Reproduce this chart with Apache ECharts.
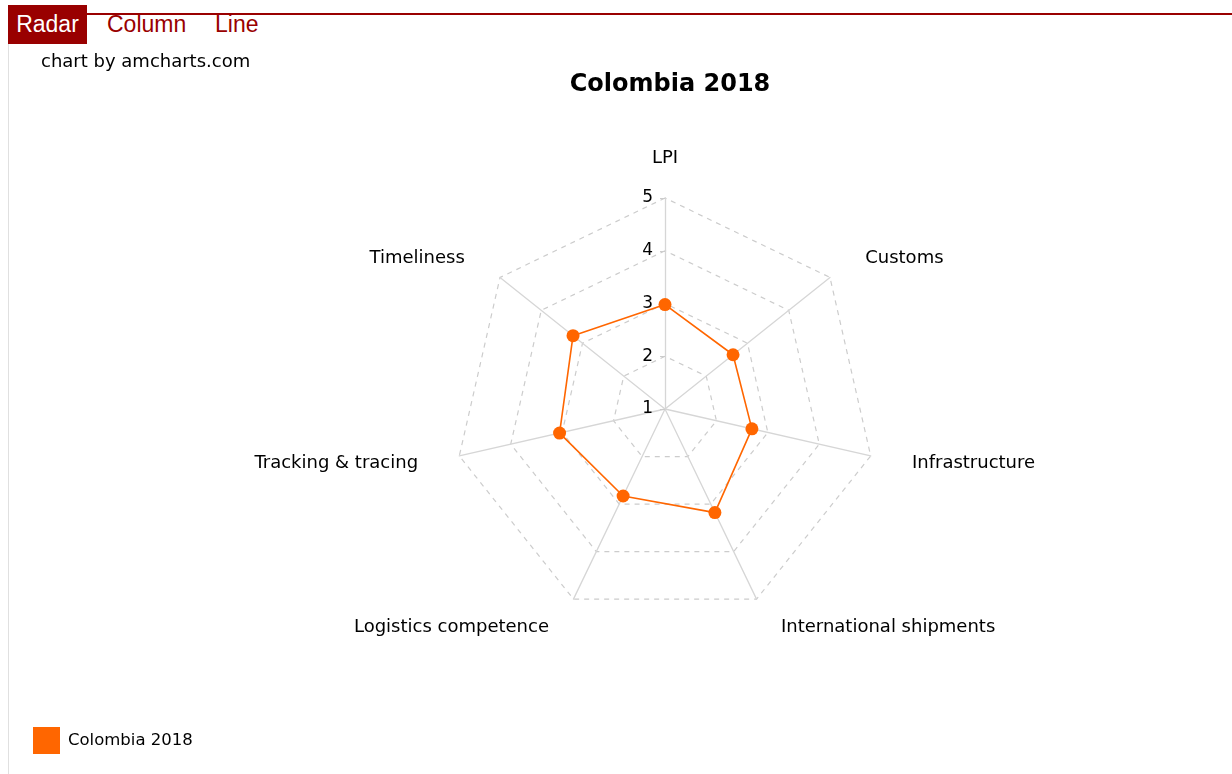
<!DOCTYPE html>
<html>
<head>
<meta charset="utf-8">
<script src="https://cdn.jsdelivr.net/npm/echarts@6/dist/echarts.min.js"></script>
<style>
  html,body{margin:0;padding:0;width:1232px;height:774px;overflow:hidden;background:#fff;font-family:"DejaVu Sans",Verdana,sans-serif;}
  #tabs{position:absolute;left:8px;top:5px;height:39px;}
  .tab{position:absolute;top:0;height:39px;line-height:38px;font-size:23px;color:#990000;white-space:nowrap;font-family:"Liberation Sans",Arial,sans-serif;}
  #topline{position:absolute;left:87px;top:13px;right:0;height:2px;background:#990000;}
  #leftline{position:absolute;left:8px;top:44px;bottom:0;width:1px;background:#e0e0e0;}
  #chart{position:absolute;left:0;top:0;width:1232px;height:774px;}
</style>
</head>
<body>
<div id="topline"></div>
<div id="leftline"></div>
<div id="tabs">
  <div class="tab" style="left:0;width:79px;background:#990000;color:#fff;text-align:center;">Radar</div>
  <div class="tab" style="left:99px;">Column</div>
  <div class="tab" style="left:207px;">Line</div>
</div>
<div id="chart"></div>
<script>
// Categories (clockwise from top) and values
const categories = ['LPI', 'Customs', 'Infrastructure', 'International shipments', 'Logistics competence', 'Tracking & tracing', 'Timeliness'];
const values = [2.98, 2.65, 2.69, 3.18, 2.83, 3.05, 3.23];
const seriesName = 'Colombia 2018';
const axisMin = 1;
const axisMax = 5;

// ECharts lays indicators counter-clockwise; reorder so they appear clockwise
const order = [0].concat(categories.map((_, i) => i).slice(1).reverse());

const indicators = order.map((idx, k) => {
  const ind = { name: categories[idx], min: axisMin, max: axisMax };
  if (k === 0) {
    ind.axisLabel = { show: true, color: '#000', fontSize: 17, fontFamily: 'DejaVu Sans', margin: 12, align: 'right', verticalAlign: 'middle', showMinLabel: true, showMaxLabel: true };
    ind.axisTick = { show: true, length: 5, inside: false, lineStyle: { color: '#cccccc' } };
  }
  return ind;
});

const chart = echarts.init(document.getElementById('chart'), null, { renderer: 'canvas' });
chart.setOption({
  animation: false,
  textStyle: { fontFamily: 'DejaVu Sans' },
  graphic: [
    { type: 'text', left: 41, top: 53, style: { text: 'chart by amcharts.com', fill: '#000', font: '18px "DejaVu Sans"' } }
  ],
  title: {
    text: 'Colombia 2018',
    left: 665,
    textAlign: 'center',
    top: 68,
    textStyle: { fontSize: 24, fontWeight: 'bold', color: '#000', fontFamily: 'DejaVu Sans' }
  },
  legend: {
    left: 33,
    top: 727,
    padding: 0,
    itemWidth: 27,
    itemHeight: 27,
    icon: 'rect',
    itemGap: 8,
    textStyle: { fontSize: 16.5, color: '#000', fontFamily: 'DejaVu Sans', padding: [0, 0, 0, 3] },
    data: [seriesName]
  },
  radar: {
    center: [665, 409],
    radius: 211,
    startAngle: 90,
    splitNumber: 4,
    shape: 'polygon',
    nameGap: 31,
    axisName: { color: '#000', fontSize: 18, fontFamily: 'DejaVu Sans', padding: [9, 11, 0, 11] },
    axisLine: { show: true, lineStyle: { color: '#d6d6d6', width: 1.3 } },
    splitLine: { show: true, lineStyle: { color: '#cccccc', width: 1.2, type: [5, 5] } },
    splitArea: { show: false },
    axisTick: { show: false },
    axisLabel: { show: false },
    indicator: indicators
  },
  series: [{
    name: seriesName,
    type: 'radar',
    symbol: 'circle',
    symbolSize: 13,
    itemStyle: { color: '#ff6600' },
    lineStyle: { color: '#ff6600', width: 1.6 },
    data: [{ value: order.map(i => values[i]), name: seriesName }]
  }]
});
</script>
</body>
</html>
